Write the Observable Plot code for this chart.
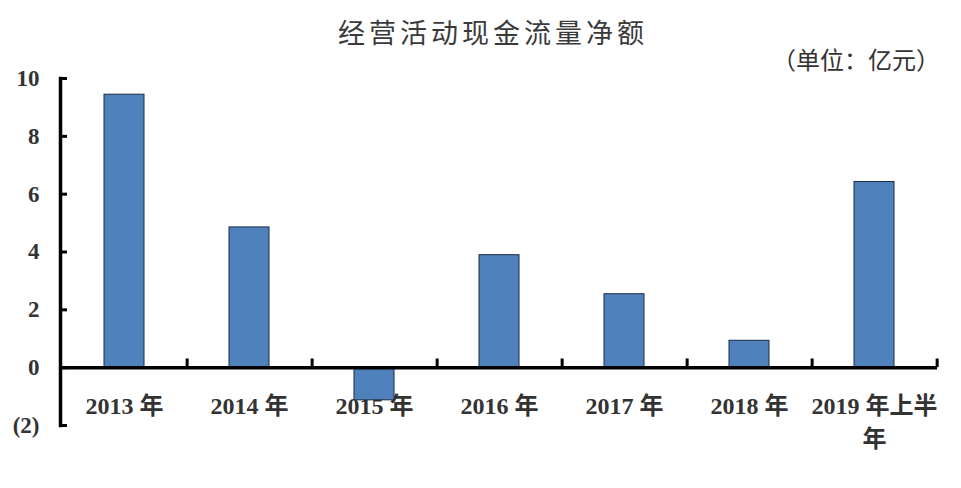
<!DOCTYPE html>
<html>
<head>
<meta charset="utf-8">
<script src="https://cdn.jsdelivr.net/npm/d3@7"></script>
<script src="https://cdn.jsdelivr.net/npm/@observablehq/plot@0.6"></script>
<style>
  html, body { margin: 0; padding: 0; background: #fff; }
  #wrap { position: relative; width: 961px; height: 488px; overflow: hidden; }
  #title { position: absolute; left: 0; width: 986px; top: 14px; text-align: center;
    font-family: "Noto Sans CJK SC", sans-serif; font-size: 27px; letter-spacing: 4px; color: #3a3a3a; line-height: 36px; }
  #unit { position: absolute; right: 21px; top: 44px; font-family: "Noto Sans CJK SC", sans-serif;
    font-size: 24px; color: #333; line-height: 30px; letter-spacing: 0px; }
</style>
</head>
<body>
<div id="wrap">
  <div id="chart"></div>
  <div id="title">经营活动现金流量净额</div>
  <div id="unit">（单位：亿元）</div>
</div>
<script>
const categories = ["2013年", "2014年", "2015年", "2016年", "2017年", "2018年", "2019年上半年"];
const values = [9.44, 4.85, -1.13, 3.89, 2.54, 0.93, 6.42];
const yTicks = [-2, 0, 2, 4, 6, 8, 10];
const yTickLabels = ["(2)", "0", "2", "4", "6", "8", "10"];
const xTickLabels = ["2013 年", "2014 年", "2015 年", "2016 年", "2017 年", "2018 年", "2019 年上半\n年"];

const data = categories.map((c, i) => ({category: c, value: values[i], label: xTickLabels[i]}));

const W = 961, H = 488, mL = 60, mR = 24, mT = 78, mB = 63;
const plotW = W - mL - mR;
const step = plotW / categories.length;
const fontFam = "'Liberation Serif', 'Noto Sans CJK SC', serif";

const chart = Plot.plot({
  width: W,
  height: H,
  marginLeft: mL,
  marginRight: mR,
  marginTop: mT,
  marginBottom: mB,
  style: {fontFamily: fontFam, color: "#333", background: "#fff"},
  x: {domain: categories, paddingInner: 0.68, paddingOuter: 0.34, axis: null},
  y: {domain: [-2, 10], axis: null},
  marks: [
    Plot.text(data, {
      x: "category", y: () => 0, text: "label",
      lineAnchor: "top", dy: 22, lineHeight: 1.4,
      fontSize: 24, fontWeight: "bold", fill: "#333"
    }),
    Plot.barY(data, {x: "category", y: "value", fill: "#4F81BD", stroke: "#1d2b40", strokeWidth: 1}),
    Plot.ruleY([0], {stroke: "#000", strokeWidth: 3.5}),
    Plot.ruleX(categories, {x: d => d, y1: 0, y2: 0.3, dx: step / 2, stroke: "#000", strokeWidth: 3}),
    Plot.frame({anchor: "left", stroke: "#000", strokeWidth: 3.5}),
    Plot.ruleY(yTicks, {y: d => d, insetRight: plotW - 7, stroke: "#000", strokeWidth: 3}),
    Plot.axisY(yTicks, {
      label: null,
      tickSize: 0, tickPadding: 21,
      tickFormat: d => yTickLabels[yTicks.indexOf(d)],
      fontSize: 23, fontWeight: "bold", fill: "#333"
    })
  ]
});
document.getElementById("chart").appendChild(chart);
</script>
</body>
</html>
